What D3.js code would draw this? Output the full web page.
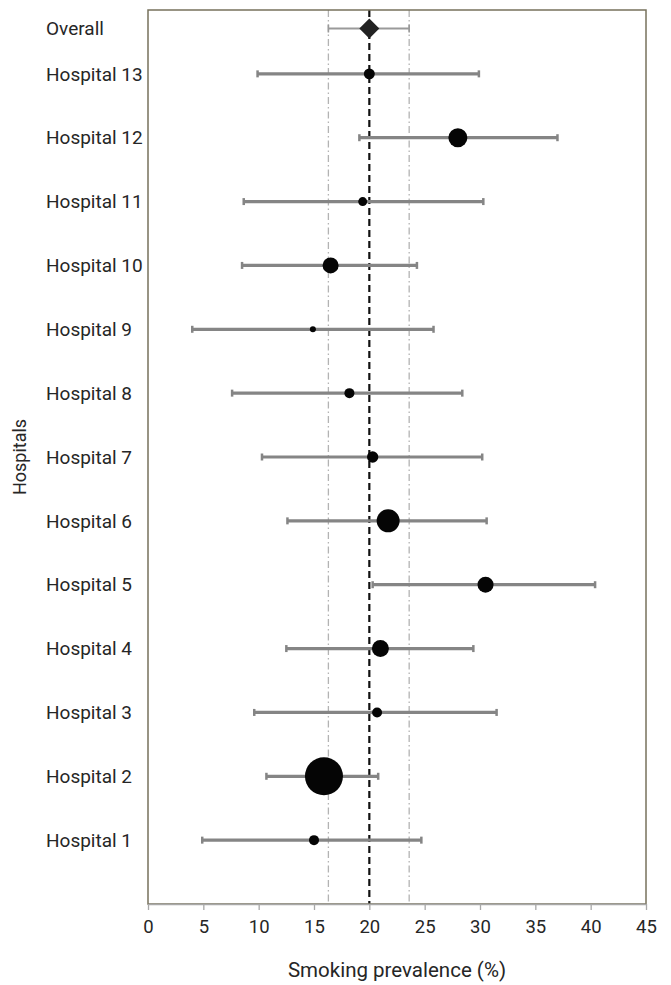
<!DOCTYPE html>
<html>
<head>
<meta charset="utf-8">
<script src="https://cdn.jsdelivr.net/npm/d3@7"></script>
<style>
  body { margin: 0; background: #fff; }
  text { font-family: Roboto, "Noto Sans", sans-serif; fill: #262626; }
</style>
</head>
<body>
<div id="chart"></div>
<script>
// Data
const hospitals = ["Hospital 1", "Hospital 2", "Hospital 3", "Hospital 4", "Hospital 5", "Hospital 6", "Hospital 7",
                   "Hospital 8", "Hospital 9", "Hospital 10", "Hospital 11", "Hospital 12", "Hospital 13"];
const prevalence = [15.0, 15.9, 20.7, 21.0, 30.5, 21.7, 20.3, 18.2, 14.9, 16.5, 19.4, 28.0, 20.0];
const lower = [4.9, 10.7, 9.6, 12.5, 20.3, 12.6, 10.3, 7.6, 4.0, 8.5, 8.65, 19.1, 9.9];
const upper = [24.7, 20.8, 31.5, 29.4, 40.4, 30.6, 30.2, 28.4, 25.8, 24.3, 30.3, 37.0, 29.9];
// relative weights (sample size) of each hospital
const weights = [25, 361, 25, 72, 64, 132, 32, 25, 9, 64, 20, 90, 30];

const overall = {label: "Overall", value: 20.0, lower: 16.3, upper: 23.6};
const xTicks = [0, 5, 10, 15, 20, 25, 30, 35, 40, 45];

const margin = {top: 10, right: 25, bottom: 81, left: 148};
const width = 671 - margin.left - margin.right;
const height = 985 - margin.top - margin.bottom;

const svg = d3.select("#chart")
    .append("svg")
    .attr("width", width + margin.left + margin.right)
    .attr("height", height + margin.top + margin.bottom)
    .append("g")
    .attr("transform", `translate(${margin.left}, ${margin.top})`);

const x = d3.scaleLinear().domain([0, 45]).range([0, width]);
// hospitals sit on rows 1..13, overall a little above the last one
const y = d3.scaleLinear().domain([0, 14]).range([height, 0]);
const overallRow = 13.71;
const r = d3.scaleSqrt().domain([0, d3.max(weights)]).range([0, 19]);

const rows = hospitals.map((h, i) => ({
  name: h, row: i + 1, value: prevalence[i], lo: lower[i], hi: upper[i], w: weights[i]
}));

// Reference lines: overall estimate and its CI
[overall.lower, overall.upper].forEach(v => {
  svg.append("line")
      .attr("x1", x(v)).attr("x2", x(v))
      .attr("y1", 0).attr("y2", height)
      .attr("stroke", "#b3b3b3")
      .attr("stroke-width", 1.3)
      .attr("stroke-dasharray", "7,3,1.5,3");
});

svg.append("line")
    .attr("x1", x(overall.value)).attr("x2", x(overall.value))
    .attr("y1", 0).attr("y2", height)
    .attr("stroke", "#111")
    .attr("stroke-width", 2.2)
    .attr("stroke-dasharray", "7,4");

// Hospital confidence intervals
const capH = 7;
rows.forEach(d => {
  const cy = y(d.row);
  svg.append("line")
      .attr("x1", x(d.lo)).attr("x2", x(d.hi))
      .attr("y1", cy).attr("y2", cy)
      .attr("stroke", "#858585")
      .attr("stroke-width", 3.2);
  [d.lo, d.hi].forEach(v => {
    svg.append("line")
        .attr("x1", x(v)).attr("x2", x(v))
        .attr("y1", cy - capH / 2).attr("y2", cy + capH / 2)
        .attr("stroke", "#858585")
        .attr("stroke-width", 2.5);
  });
});

// Overall CI (thinner)
const oy = y(overallRow);
svg.append("line")
    .attr("x1", x(overall.lower)).attr("x2", x(overall.upper))
    .attr("y1", oy).attr("y2", oy)
    .attr("stroke", "#9a9a9a")
    .attr("stroke-width", 2);
[overall.lower, overall.upper].forEach(v => {
  svg.append("line")
      .attr("x1", x(v)).attr("x2", x(v))
      .attr("y1", oy - 4).attr("y2", oy + 4)
      .attr("stroke", "#9a9a9a")
      .attr("stroke-width", 1.6);
});

// Points
svg.selectAll(".pt")
    .data(rows)
    .enter()
    .append("circle")
    .attr("class", "pt")
    .attr("cx", d => x(d.value))
    .attr("cy", d => y(d.row))
    .attr("r", d => r(d.w))
    .attr("fill", "#050505");

// Overall diamond
const dS = 10;
svg.append("path")
    .attr("d", `M${x(overall.value)},${oy - dS} L${x(overall.value) + dS},${oy} L${x(overall.value)},${oy + dS} L${x(overall.value) - dS},${oy} Z`)
    .attr("fill", "#222");

// Frame
svg.append("rect")
    .attr("x", 0).attr("y", 0)
    .attr("width", width).attr("height", height)
    .attr("fill", "none")
    .attr("stroke", "#77725c")
    .attr("stroke-width", 1.5);

// X axis
const xAxis = svg.append("g")
    .attr("transform", `translate(0, ${height})`)
    .call(d3.axisBottom(x).tickValues(xTicks).tickSize(6).tickPadding(10).tickSizeOuter(0));
xAxis.select(".domain").attr("stroke", "#a8a8a8").attr("stroke-width", 1.5);
xAxis.selectAll(".tick line").attr("stroke", "#a8a8a8").attr("stroke-width", 1.3);
xAxis.selectAll("text")
    .style("font-size", "18.5px")
    .style("font-family", "Roboto, sans-serif")
    .attr("fill", "#262626");

// Row labels
const labels = [{name: overall.label, row: overallRow}].concat(rows);
svg.selectAll(".rowlabel")
    .data(labels)
    .enter()
    .append("text")
    .attr("class", "rowlabel")
    .attr("x", 46 - margin.left)
    .attr("y", d => y(d.row))
    .attr("dy", "0.35em")
    .style("font-size", "19px")
    .text(d => d.name);

// Axis titles
svg.append("text")
    .attr("x", width / 2)
    .attr("y", height + 73)
    .attr("text-anchor", "middle")
    .style("font-size", "20.5px")
    .text("Smoking prevalence (%)");

svg.append("text")
    .attr("transform", "rotate(-90)")
    .attr("x", -y(7))
    .attr("y", 20 - margin.left)
    .attr("dy", "0.35em")
    .attr("text-anchor", "middle")
    .style("font-size", "18px")
    .text("Hospitals");
</script>
</body>
</html>
